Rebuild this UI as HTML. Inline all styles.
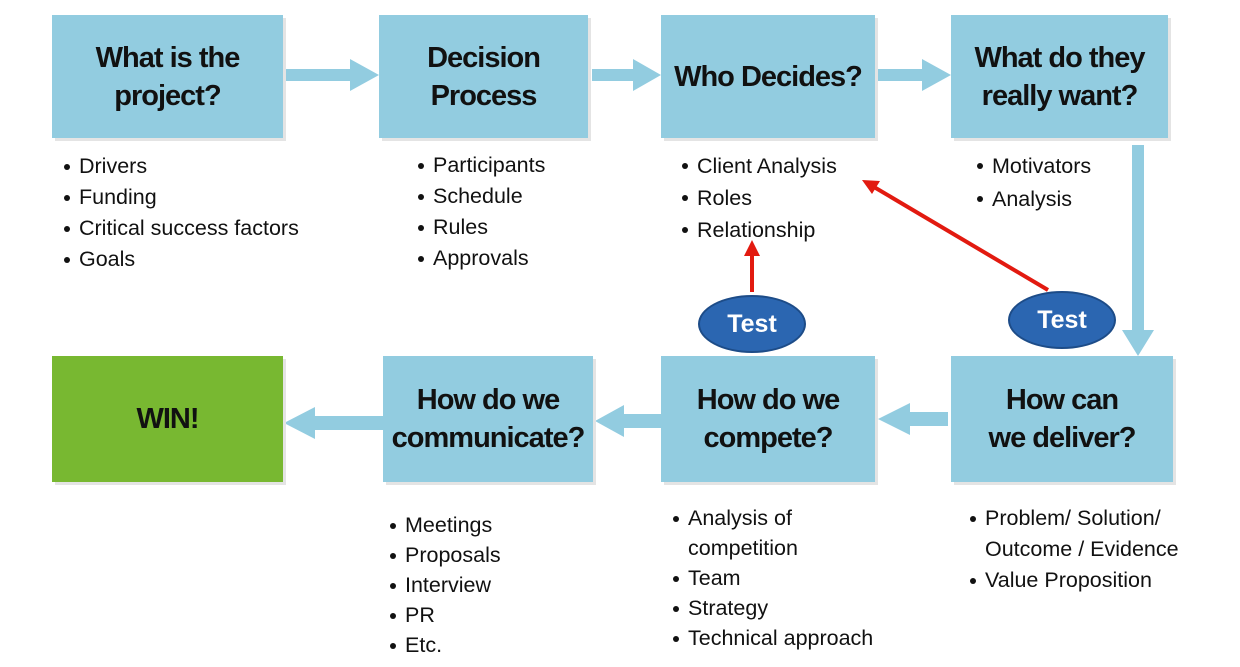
<!DOCTYPE html>
<html><head><style>
body{margin:0;width:1240px;height:667px;background:#fff;position:relative;overflow:hidden;font-family:"Liberation Sans",sans-serif}
.b{position:absolute;background:#92cce0;box-shadow:3px 3px 0 #e4e4e4;display:flex;align-items:center;justify-content:center;text-align:center;font-weight:bold;font-size:29px;line-height:38px;color:#111;letter-spacing:-1px}
.l{position:absolute;font-size:21.5px;line-height:31px;color:#111;white-space:nowrap}
.l div{position:relative;padding-left:15px}
.l div:before{content:"";position:absolute;left:0;top:13px;width:6px;height:6px;border-radius:50%;background:#111}
.t{position:absolute;width:108px;height:58px;border-radius:50%;background:#2b66b1;border:2px solid #1d4c88;color:#fff;font-weight:bold;font-size:25px;display:flex;align-items:center;justify-content:center;box-sizing:border-box}
</style></head><body>
<svg width="1240" height="667" style="position:absolute;left:0;top:0">
<g fill="#92cce0">
<polygon points="286,69 350,69 350,59 379,75 350,91 350,81 286,81"/>
<polygon points="592,69 633,69 633,59 661,75 633,91 633,81 592,81"/>
<polygon points="876,69 922,69 922,59 951,75 922,91 922,81 876,81"/>
<polygon points="1132,145 1144,145 1144,330 1154,330 1138,356 1122,330 1132,330"/>
<polygon points="948,412 910,412 910,403 878,419 910,435 910,426 948,426"/>
<polygon points="661,414 624,414 624,405 595,421 624,437 624,428 661,428"/>
<polygon points="383,416 315,416 315,407 284,423 315,439 315,430 383,430"/>
</g>
<g stroke="#e21a10" stroke-width="4" fill="#e21a10">
<line x1="752" y1="292" x2="752" y2="252"/>
<line x1="1048" y1="290" x2="874" y2="187"/>
</g>
<polygon points="744,256 752,240 760,256" fill="#e21a10"/>
<polygon points="862,180 880,181 872,194" fill="#e21a10"/>
</svg>
<div class="b" style="left:52px;top:15px;width:231px;height:123px">What is the<br>project?</div>
<div class="b" style="left:379px;top:15px;width:209px;height:123px">Decision<br>Process</div>
<div class="b" style="left:661px;top:15px;width:214px;height:123px">Who Decides?</div>
<div class="b" style="left:951px;top:15px;width:217px;height:123px">What do they<br>really want?</div>
<div class="b" style="left:52px;top:356px;width:231px;height:126px;background:#78b831">WIN!</div>
<div class="b" style="left:383px;top:356px;width:210px;height:126px">How do we<br>communicate?</div>
<div class="b" style="left:661px;top:356px;width:214px;height:126px">How do we<br>compete?</div>
<div class="b" style="left:951px;top:356px;width:222px;height:126px">How can<br>we deliver?</div>
<div class="l" style="left:64px;top:151px"><div>Drivers</div><div>Funding</div><div>Critical success factors</div><div>Goals</div></div>
<div class="l" style="left:418px;top:150px"><div>Participants</div><div>Schedule</div><div>Rules</div><div>Approvals</div></div>
<div class="l" style="left:682px;top:150px;line-height:32px"><div>Client Analysis</div><div>Roles</div><div>Relationship</div></div>
<div class="l" style="left:977px;top:150px;line-height:33px"><div>Motivators</div><div>Analysis</div></div>
<div class="l" style="left:390px;top:510px;line-height:30px"><div>Meetings</div><div>Proposals</div><div>Interview</div><div>PR</div><div>Etc.</div></div>
<div class="l" style="left:673px;top:503px;line-height:30px"><div>Analysis of<br>competition</div><div>Team</div><div>Strategy</div><div>Technical approach</div></div>
<div class="l" style="left:970px;top:503px;line-height:31px"><div>Problem/ Solution/<br>Outcome / Evidence</div><div>Value Proposition</div></div>
<div class="t" style="left:698px;top:295px">Test</div>
<div class="t" style="left:1008px;top:291px">Test</div>
</body></html>
